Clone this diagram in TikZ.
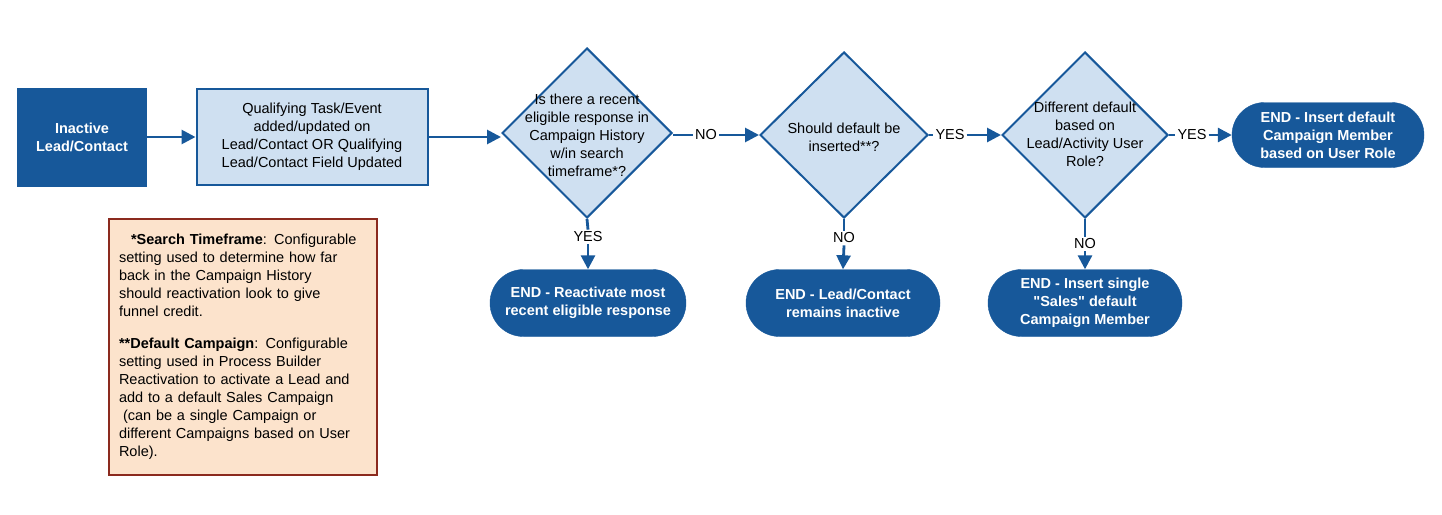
\documentclass[tikz,border=0pt]{standalone}
\usepackage{fontspec}
\setmainfont{Liberation Sans}
\usetikzlibrary{shapes.geometric,shapes.misc,arrows.meta}
\definecolor{dblue}{HTML}{17589A}
\definecolor{lblue}{HTML}{CFE0F1}
\definecolor{notefill}{HTML}{FCE3CC}
\definecolor{notedraw}{HTML}{8B2A1E}
\begin{document}
\begin{tikzpicture}[x=1pt,y=-1pt,
  every node/.style={font=\fontsize{14.5}{18}\selectfont},
  dark/.style={rectangle,fill=dblue,draw=dblue,text=white,font=\fontsize{14.5}{18}\selectfont\bfseries,align=center},
  light/.style={rectangle,fill=lblue,draw=dblue,line width=2pt,align=center},
  dec/.style={diamond,fill=lblue,draw=dblue,line width=2pt,inner sep=0pt,aspect=1},
  dtext/.style={align=center,inner sep=0pt},
  term/.style={rounded rectangle,fill=dblue,draw=dblue,text=white,font=\fontsize{14.5}{18}\selectfont\bfseries,align=center,inner sep=0pt},
  lab/.style={fill=white,inner sep=2pt},
  conn/.style={draw=dblue,line width=2.8pt},
  arr/.style={conn,-{Triangle[length=14pt,width=14pt]}}]
\useasboundingbox (0,0) rectangle (1442,514);
\node[dark,minimum width=129pt,minimum height=98pt] (inact) at (82,137) {Inactive\\Lead/Contact};
\node[light,minimum width=231pt,minimum height=96pt] (qual) at (312,137) {Qualifying Task/Event\\added/updated on\\Lead/Contact OR Qualifying\\Lead/Contact Field Updated};
\node[dec,minimum width=170pt,minimum height=170pt] (d1) at (587,133) {};
\node[dtext] (t1) at (587,135) {Is there a recent\\eligible response in\\Campaign History\\w/in search\\timeframe*?};
\node[dec,minimum width=168pt,minimum height=166pt] (d2) at (844,135) {};
\node[dtext] (t2) at (844,137) {Should default be\\inserted**?};
\node[dec,minimum width=166pt,minimum height=166pt] (d3) at (1085,135) {};
\node[dtext] (t3) at (1085,134) {Different default\\based on\\Lead/Activity User\\Role?};
\node[term,minimum width=192pt,minimum height=65pt] (e4) at (1328,135) {END - Insert default\\Campaign Member\\based on User Role};
\node[term,minimum width=196pt,minimum height=67pt] (e1) at (588,303) {END - Reactivate most\\recent eligible response};
\node[term,minimum width=194pt,minimum height=67pt] (e2) at (843,303) {END - Lead/Contact\\remains inactive};
\node[term,minimum width=194pt,minimum height=67pt] (e3) at (1085,303) {END - Insert single\\\textquotedbl Sales\textquotedbl{} default\\Campaign Member};
\node[lab] (no1) at (706,135) {NO};
\node[lab] (yes2) at (950,135) {YES};
\node[lab] (yes3) at (1192,135) {YES};
\node[lab] (yes1) at (588,237) {YES};
\node[lab] (no2) at (844,238) {NO};
\node[lab] (no3) at (1085,244) {NO};
\draw[arr] (inact.east) -- (qual.west);
\draw[arr] (qual.east) -- (qual.east -| d1.west);
\draw[conn] (d1.east |- no1) -- (no1.west);
\draw[arr] (no1.east) -- (d2.west);
\draw[conn] (d2.east) -- (yes2.west);
\draw[arr] (yes2.east) -- (d3.west);
\draw[conn] (d3.east) -- (yes3.west);
\draw[arr] (yes3.east) -- (e4.west);
\draw[conn] (d1.south) -- (yes1.north);
\draw[arr] (yes1.south) -- (e1.north);
\draw[conn] (d2.south) -- (no2.north);
\draw[arr] (no2.south) -- (e2.north);
\draw[conn] (d3.south) -- (no3.north);
\draw[arr] (no3.south) -- (e3.north);
\node[rectangle,fill=notefill,draw=notedraw,line width=2pt,minimum width=268pt,minimum height=256pt,text width=248pt,align=left,anchor=north west,inner sep=0pt,font=\fontsize{14.5}{18}\selectfont] (note) at (108,218) {\hspace*{12pt}\textbf{*Search Timeframe}: Configurable\\setting used to determine how far\\back in the Campaign History\\should reactivation look to give\\funnel credit.\\[14pt]\textbf{**Default Campaign}: Configurable\\setting used in Process Builder\\Reactivation to activate a Lead and\\add to a default Sales Campaign\\\hspace*{4pt}(can be a single Campaign or\\different Campaigns based on User\\Role).};
\end{tikzpicture}
\end{document}
